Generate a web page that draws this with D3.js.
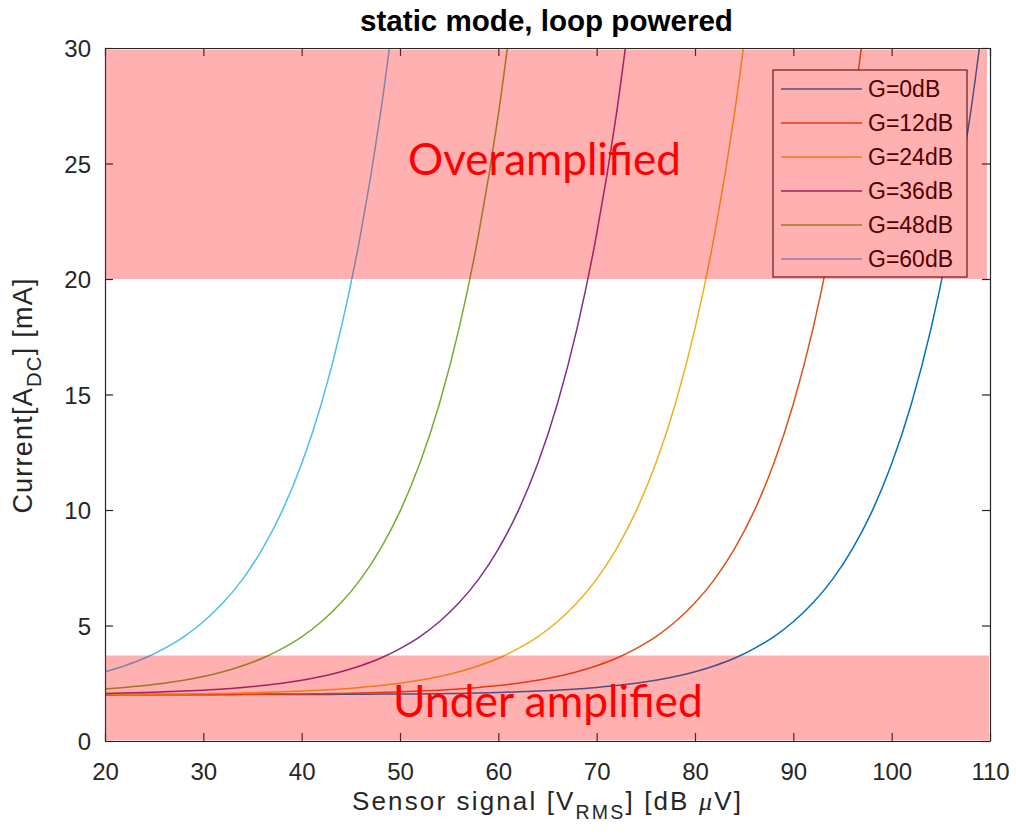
<!DOCTYPE html>
<html><head><meta charset="utf-8">
<script src="https://cdn.jsdelivr.net/npm/d3@7/dist/d3.min.js"></script>
<style>body{margin:0;background:#fff}</style>
</head><body>
<svg id="c" width="1016" height="836"></svg>
<script>
// ---------- data ----------
const signal = [20,22,24,26,28,30,32,34,36,38,40,42,44,46,48,50,52,54,56,58,60,62,64,66,68,70,72,74,76,78,80,82,84,86,88,90,92,94,96,98,100,102,104,106,108,110];
const seriesNames = ["G=0dB","G=12dB","G=24dB","G=36dB","G=48dB","G=60dB"];
const g0  = [2.00,2.00,2.00,2.00,2.00,2.00,2.00,2.01,2.01,2.01,2.01,2.01,2.02,2.02,2.03,2.03,2.04,2.05,2.06,2.08,2.10,2.13,2.16,2.20,2.25,2.32,2.40,2.50,2.63,2.79,3.00,3.26,3.58,4.00,4.51,5.16,5.98,7.01,8.31,9.94,12.00,14.59,17.85,21.95,27.12,33.62];
const g12 = [2.00,2.01,2.01,2.01,2.01,2.01,2.02,2.02,2.03,2.03,2.04,2.05,2.06,2.08,2.10,2.13,2.16,2.20,2.25,2.32,2.40,2.50,2.63,2.79,3.00,3.26,3.58,4.00,4.51,5.16,5.98,7.01,8.31,9.94,12.00,14.59,17.85,21.95,27.12,33.62];
const g24 = [2.02,2.02,2.03,2.03,2.04,2.05,2.06,2.08,2.10,2.13,2.16,2.20,2.25,2.32,2.40,2.50,2.63,2.79,3.00,3.26,3.58,4.00,4.51,5.16,5.98,7.01,8.31,9.94,12.00,14.59,17.85,21.95,27.12,33.62];
const g36 = [2.06,2.08,2.10,2.13,2.16,2.20,2.25,2.32,2.40,2.50,2.63,2.79,3.00,3.26,3.58,4.00,4.51,5.16,5.98,7.01,8.31,9.94,12.00,14.59,17.85,21.95,27.12,33.62];
const g48 = [2.25,2.32,2.40,2.50,2.63,2.79,3.00,3.26,3.58,4.00,4.51,5.16,5.98,7.01,8.31,9.94,12.00,14.59,17.85,21.95,27.12,33.62];
const g60 = [3.00,3.26,3.58,4.00,4.51,5.16,5.98,7.01,8.31,9.94,12.00,14.59,17.85,21.95,27.12,33.62];
const seriesValues = [g0,g12,g24,g36,g48,g60];
const xTicks = [20,30,40,50,60,70,80,90,100,110];
const yTicks = [0,5,10,15,20,25,30];
const overBand = [20,30];
const underBand = [0,3.7];
const bandLabels = ["Overamplified","Under amplified"];
const titleText = "static mode, loop powered";

// ---------- styles ----------
const colors = ["#0072BD","#D95319","#EDB120","#7E2F8E","#77AC30","#4DBEEE"];
const axisColor = "#262626";
const font = "'Liberation Sans', Arial, sans-serif";

const svg = d3.select("#c");
const x = d3.scaleLinear().domain([20,110]).range([105,990]);
const y = d3.scaleLinear().domain([0,30]).range([741,48]);

function fit(sel, target){
  const base = parseFloat(sel.attr("font-size"));
  const w = sel.node().getBBox().width;
  sel.attr("font-size", base*target/w);
}
function spread(sel, target){
  const w = sel.node().getBBox().width;
  const n = sel.node().getNumberOfChars();
  sel.attr("letter-spacing", (target-w)/(n-1));
}

svg.append("defs").append("clipPath").attr("id","clip")
  .append("rect").attr("x",x(20)).attr("y",y(30)).attr("width",x(110)-x(20)).attr("height",y(0)-y(30));

// lines
const line = d3.line().x((d,i)=>x(signal[i])).y(d=>y(d)).curve(d3.curveMonotoneX);
const lg = svg.append("g").attr("clip-path","url(#clip)");
seriesValues.forEach((vals,k)=>{
  lg.append("path").attr("d",line(vals)).attr("fill","none")
    .attr("stroke",colors[k]).attr("stroke-width",1.5);
});

// axes
function styleAxis(g){
  g.selectAll("path.domain").attr("stroke",axisColor).attr("stroke-width",1.2);
  g.selectAll(".tick line").attr("stroke",axisColor).attr("stroke-width",1.2);
  g.selectAll("text").attr("fill",axisColor).attr("font-family",font).attr("font-size",24);
}
const gb = svg.append("g").attr("transform",`translate(0,${y(0)})`)
  .call(d3.axisBottom(x).tickValues(xTicks).tickSizeInner(-8).tickSizeOuter(0));
styleAxis(gb);
gb.selectAll("text").attr("dy",null).attr("y",38.5);
const gt = svg.append("g").attr("transform",`translate(0,${y(30)})`)
  .call(d3.axisTop(x).tickValues(xTicks).tickSizeInner(-8).tickSizeOuter(0).tickFormat(""));
styleAxis(gt);
const gl = svg.append("g").attr("transform",`translate(${x(20)},0)`)
  .call(d3.axisLeft(y).tickValues(yTicks).tickSizeInner(-8).tickSizeOuter(0));
styleAxis(gl);
gl.selectAll("text").attr("x",-14).attr("dy","0.36em");
const gr = svg.append("g").attr("transform",`translate(${x(110)},0)`)
  .call(d3.axisRight(y).tickValues(yTicks).tickSizeInner(-8).tickSizeOuter(0).tickFormat(""));
styleAxis(gr);

// legend
const leg = svg.append("g");
leg.append("rect").attr("x",773).attr("y",70).attr("width",194).attr("height",207)
  .attr("fill","#fff").attr("stroke",axisColor).attr("stroke-width",1.2);
const legFont = 23;
seriesNames.forEach((nm,k)=>{
  const yy = 89 + 34*k;
  leg.append("line").attr("x1",781).attr("x2",862).attr("y1",yy).attr("y2",yy)
    .attr("stroke",colors[k]).attr("stroke-width",1.5);
  leg.append("text").attr("x",868).attr("y",yy).attr("dy","0.36em")
    .attr("font-family",font).attr("font-size",legFont).attr("fill","#000").text(nm);
});

// overlay bands
svg.append("rect").attr("x",x(20)).attr("y",y(overBand[1])+1.5)
  .attr("width",x(110)-3-x(20)).attr("height",y(overBand[0])-y(overBand[1])-1.5)
  .attr("fill","#ff0000").attr("fill-opacity",0.31);
svg.append("rect").attr("x",x(20)).attr("y",y(underBand[1]))
  .attr("width",x(110)-1-x(20)).attr("height",y(underBand[0])-y(underBand[1])-0.5)
  .attr("fill","#ff0000").attr("fill-opacity",0.31);

const t1 = svg.append("text").attr("x",408).attr("y",175).attr("font-family","Lato, 'Open Sans', sans-serif")
  .attr("font-size",44).attr("fill","#ff0000").text(bandLabels[0]);
fit(t1,273);
const t2 = svg.append("text").attr("x",393).attr("y",717).attr("font-family","Lato, 'Open Sans', sans-serif")
  .attr("font-size",44).attr("fill","#ff0000").text(bandLabels[1]);
fit(t2,310);

// title
const tt = svg.append("text").attr("x",546.5).attr("y",31).attr("text-anchor","middle")
  .attr("font-family",font).attr("font-weight","bold").attr("font-size",27).attr("fill","#000").text(titleText);
fit(tt,373);

// x label
const xl = svg.append("text").attr("x",547.5).attr("y",810).attr("text-anchor","middle")
  .attr("font-family",font).attr("font-size",26).attr("fill",axisColor);
xl.append("tspan").text("Sensor signal [V");
xl.append("tspan").attr("font-size","75%").attr("dy","0.45em").text("RMS");
xl.append("tspan").attr("dy","-0.34em").text("] [dB ");
xl.append("tspan").attr("font-family","'Liberation Serif', 'DejaVu Serif', serif").attr("font-style","italic").text("\u03bc");
xl.append("tspan").text("V]");
spread(xl,389);

// y label
const yl = svg.append("text").attr("transform","translate(32,395.5) rotate(-90)").attr("text-anchor","middle")
  .attr("font-family",font).attr("font-size",27).attr("fill",axisColor);
yl.append("tspan").text("Current[A");
yl.append("tspan").attr("font-size","75%").attr("dy","0.45em").text("DC");
yl.append("tspan").attr("dy","-0.34em").text("] [mA]");
spread(yl,235);
</script>
</body></html>
